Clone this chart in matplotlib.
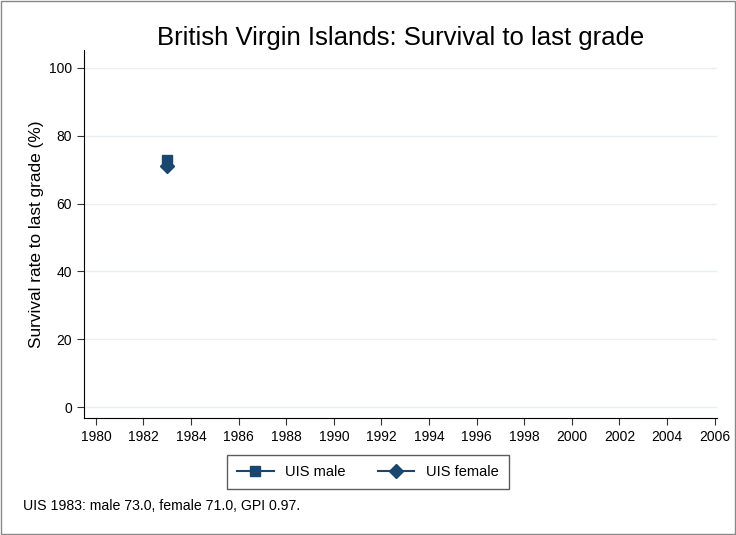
import matplotlib
matplotlib.use("Agg")
import matplotlib.pyplot as plt
from matplotlib.patches import Rectangle

plt.rcParams['font.family'] = ['Liberation Sans', 'DejaVu Sans']

years = [1983]
male = [73.0]
female = [71.0]
xticks = list(range(1980, 2007, 2))
yticks = [0, 20, 40, 60, 80, 100]
navy = '#1a476f'

fig = plt.figure(figsize=(7.36, 5.35), dpi=100)
ax = fig.add_axes([84 / 736, 1 - 418 / 535, (717 - 84) / 736, (418 - 50) / 535])

ax.plot(years, male, marker='s', color=navy, markersize=7, linestyle='-', label='UIS male')
ax.plot(years, female, marker='D', color=navy, markersize=7, linestyle='-', label='UIS female')

ax.set_xlim(1979.5, 2006.1)
ax.set_ylim(-3.2, 105.3)
ax.set_xticks(xticks)
ax.set_yticks(yticks)
ax.tick_params(labelsize=10, length=5, color='#333333')
ax.grid(axis='y', color='#e6eff1', linewidth=1)
ax.set_axisbelow(True)
for s in ['top', 'right']:
    ax.spines[s].set_visible(False)

ax.set_ylabel('Survival rate to last grade (%)', fontsize=12.4)
ax.set_title('British Virgin Islands: Survival to last grade', fontsize=18.5, pad=3)

leg = fig.legend(loc='center', bbox_to_anchor=(368 / 736, 1 - 472 / 535), ncol=2,
                 frameon=True, fancybox=False, edgecolor='#333333', fontsize=10.5,
                 handlelength=2.5, handletextpad=0.8, columnspacing=2.2, borderpad=0.7,
                 borderaxespad=0)
leg.get_frame().set_linewidth(1)
leg._legend_box.sep = 0
leg.borderpad = 0.7

fig.text(23 / 736, 1 - 506 / 535, 'UIS 1983: male 73.0, female 71.0, GPI 0.97.', fontsize=10.2,
         va='center', ha='left')

fig.patches.append(Rectangle((0.002, 0.002), 0.996, 0.996, transform=fig.transFigure,
                             fill=False, edgecolor='#888888', linewidth=1))

fig.savefig('out.png', dpi=100)
